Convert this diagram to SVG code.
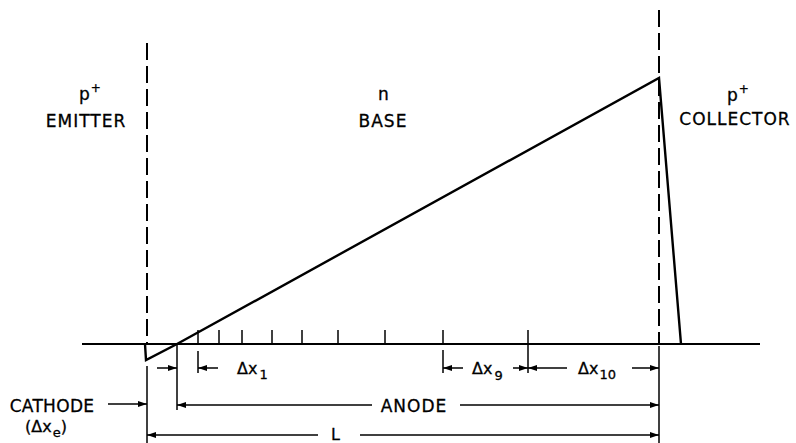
<svg xmlns="http://www.w3.org/2000/svg" width="796" height="443" viewBox="0 0 796 443">
<defs>
<marker id="ah" markerUnits="userSpaceOnUse" markerWidth="10" markerHeight="8" refX="9" refY="3" orient="auto">
<path d="M0,0 L9,3 L0,6 z" fill="#000"/>
</marker>
<style>
.t{font-family:"DejaVu Sans","Liberation Sans",sans-serif;font-size:17px;fill:#000;letter-spacing:1px;stroke:#000;stroke-width:0.3}
.s{font-family:"DejaVu Sans","Liberation Sans",sans-serif;font-size:16px;fill:#000;stroke:#000;stroke-width:0.3}
.sub{font-size:13px}
.ln{stroke:#000;stroke-width:2.4;fill:none;stroke-linejoin:miter}
.dim{stroke:#000;stroke-width:1.5;fill:none}
.dash{stroke:#000;stroke-width:2;fill:none;stroke-dasharray:17 6}
.arr{stroke:#000;stroke-width:1.5;fill:none;marker-end:url(#ah)}
</style>
</defs>
<rect width="796" height="443" fill="#fff"/>

<g id="region-labels">
<g id="emitter"><text class="t" x="79" y="100">p<tspan dy="-8" font-size="12">+</tspan></text><text class="t" x="86" y="127" text-anchor="middle">EMITTER</text></g>
<g id="base"><text class="t" x="378" y="100">n</text><text class="t" x="383" y="127" text-anchor="middle">BASE</text></g>
<g id="collector"><text class="t" x="727" y="101">p<tspan dy="-8" font-size="12">+</tspan></text><text class="t" x="735" y="125" text-anchor="middle">COLLECTOR</text></g>
</g>

<g id="axes">
<line class="ln" x1="82" y1="344" x2="760" y2="344" style="stroke-width:2"/>
<line class="dash" x1="147" y1="43" x2="147" y2="344"/>
<line class="dash" x1="659" y1="10" x2="659" y2="344"/>
<g class="dim">
<line x1="198" y1="330" x2="198" y2="344"/><line x1="219" y1="330" x2="219" y2="344"/><line x1="242" y1="330" x2="242" y2="344"/><line x1="272" y1="330" x2="272" y2="344"/><line x1="302" y1="330" x2="302" y2="344"/><line x1="338" y1="330" x2="338" y2="344"/><line x1="385" y1="330" x2="385" y2="344"/><line x1="443" y1="330" x2="443" y2="344"/><line x1="528" y1="330" x2="528" y2="344"/>
</g>
</g>

<g id="profile">
<polyline class="ln" points="145,344 146,360 177,344 659,78 681,344"/>
</g>

<g id="connectors">
<g class="dim">
<line x1="147" y1="366" x2="147" y2="443"/>
<line x1="177" y1="344" x2="177" y2="410"/>
<line x1="198" y1="351" x2="198" y2="373"/>
<line x1="443" y1="350" x2="443" y2="373"/>
<line x1="528" y1="344" x2="528" y2="373"/>
<line x1="659" y1="346" x2="659" y2="443"/>
</g>
<line class="arr" x1="157" y1="368" x2="177" y2="368"/>
<line class="arr" x1="218" y1="368" x2="198" y2="368"/>
<line class="arr" x1="463" y1="368" x2="443" y2="368"/>
<line class="arr" x1="513" y1="368" x2="528" y2="368"/>
<line class="arr" x1="567" y1="368" x2="528" y2="368"/>
<line class="arr" x1="632" y1="368" x2="659" y2="368"/>
<line class="arr" x1="108" y1="404" x2="147" y2="404"/>
<line class="arr" x1="372" y1="405" x2="177" y2="405"/>
<line class="arr" x1="460" y1="405" x2="659" y2="405"/>
<line class="arr" x1="318" y1="435" x2="147" y2="435"/>
<line class="arr" x1="360" y1="435" x2="659" y2="435"/>
</g>

<g id="dim-labels">
<text class="s" x="237" y="374">Δx<tspan class="sub" dy="5" dx="2">1</tspan></text>
<text class="s" x="472" y="374">Δx<tspan class="sub" dy="6" dx="2">9</tspan></text>
<text class="s" x="578" y="374">Δx<tspan class="sub" dy="5" dx="1">10</tspan></text>
<text class="t" x="52" y="412" text-anchor="middle" style="letter-spacing:0.3px">CATHODE</text>
<text class="s" x="25" y="432">(Δx<tspan class="sub" dy="5" dx="1">e</tspan><tspan dy="-5">)</tspan></text>
<text class="t" x="414" y="412" text-anchor="middle">ANODE</text>
<text class="t" x="336" y="440" text-anchor="middle" style="font-size:16px">L</text>
</g>
</svg>
